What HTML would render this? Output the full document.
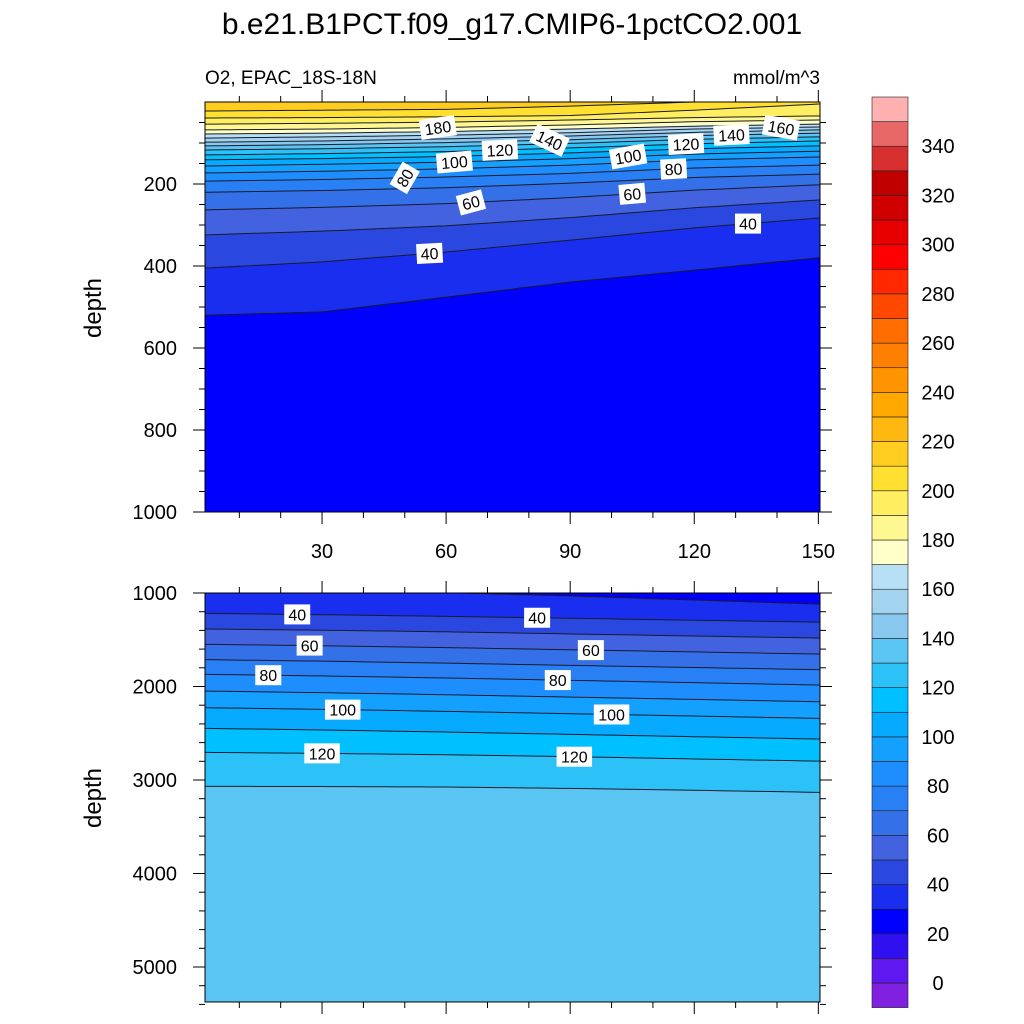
<!DOCTYPE html>
<html><head><meta charset="utf-8">
<style>
html,body{margin:0;padding:0;background:#fff;}
svg{display:block;font-family:"Liberation Sans",sans-serif;}
</style></head>
<body>
<svg id="chart" width="1024" height="1024" viewBox="0 0 1024 1024">
<defs>
<clipPath id="clipTop"><rect x="205" y="102" width="615" height="410"/></clipPath>
<clipPath id="clipBot"><rect x="205" y="593" width="615" height="409"/></clipPath>
</defs>
<text x="512" y="34" font-size="30" text-anchor="middle">b.e21.B1PCT.f09_g17.CMIP6-1pctCO2.001</text>
<text x="205" y="84" font-size="19">O2, EPAC_18S-18N</text>
<text x="820" y="84" font-size="19" text-anchor="end">mmol/m^3</text>
<text transform="translate(101,308) rotate(-90)" font-size="24" text-anchor="middle">depth</text>
<text transform="translate(101,798) rotate(-90)" font-size="24" text-anchor="middle">depth</text>
<g id="topPanel"></g>
<g id="botPanel"></g>
<g id="cbar"></g>
</svg>
<script>
// ---- data ----
const years = [2, 30, 60, 90, 120, 150];
const topLevels = [210,200,190,180,170,160,150,140,130,120,110,100,90,80,70,60,50,40,30];
const topDepths = [
 [22,20,18,10,0,0],
 [39,38,36,33,20,5],
 [54,52,49,44,38,34],
 [68,66,62,56,48,44],
 [78,76,72,66,59,54],
 [88,85,81,75,66,61],
 [98,95,90,83,74,68],
 [107,104,99,92,82,76],
 [117,114,109,101,91,85],
 [129,126,121,112,102,95],
 [141,138,133,124,114,107],
 [156,152,147,138,127,120],
 [173,169,163,154,141,134],
 [193,189,183,174,161,154],
 [220,216,209,198,184,176],
 [263,257,248,233,215,202],
 [324,315,302,282,258,239],
 [405,390,366,337,307,283],
 [520,512,476,439,410,380]
];
const botLevels = [30,40,50,60,70,80,90,100,110,120,130];
const botDepths = [
 [990,993,997,1030,1075,1118],
 [1218,1232,1250,1270,1292,1312],
 [1385,1398,1415,1438,1460,1482],
 [1549,1564,1584,1607,1630,1653],
 [1713,1729,1750,1774,1797,1820],
 [1870,1887,1909,1934,1959,1984],
 [2049,2066,2088,2113,2138,2163],
 [2227,2244,2266,2291,2316,2341],
 [2448,2465,2487,2512,2537,2562],
 [2705,2715,2730,2750,2775,2798],
 [3068,3070,3075,3090,3110,3132]
];
const topLabLevel = [180,120,140,100,100,120,140,160,80,80,60,60,40,40];
const topLabYear  = [58,73,85,62,104,118,129,141,50,115,66,105,56,133];
const topLabRot   = [-8,-3,25,-5,-10,-3,-3,10,-60,-3,-15,-5,-3,0];
const botLabLevel = [40,40,60,60,80,80,100,100,120,120];
const botLabYear  = [24,82,27,95,17,87,35,100,30,91];
const tickYears = [30,60,90,120,150];
const topDepthTicks = [200,400,600,800,1000];
const botDepthTicks = [1000,2000,3000,4000,5000];
const cbLabels = [0,20,40,60,80,100,120,140,160,180,200,220,240,260,280,300,320,340];
const colors = ["#8020e0","#6018f0","#3010f0","#0000ff","#1a2ef0","#2a48e0","#4262e0","#3470e8","#2880f4","#1e8eff","#14a0ff","#06aaff","#00c0ff","#2cc2f8","#5ac4f2","#88c8ee","#a2d4f0","#b8e0f4","#ffffc8","#fff890","#ffee60","#ffe030","#ffcc20","#ffb810","#ffa800","#ff9400","#ff8000","#ff6c00","#ff4800","#ff2800","#ff0000","#e80000","#d00000","#c00000","#d83030","#e86868","#ffb0b0"];
function bandColor(lo){ return colors[Math.round(lo/10)+1]; }

const NS="http://www.w3.org/2000/svg";
function mk(tag, attrs, parent){ const e=document.createElementNS(NS,tag); for(const k in attrs) e.setAttribute(k,attrs[k]); parent.appendChild(e); return e; }
const X0=205, X1=820, YR0=1.7, YR1=150.4;
function xs(yr){ return X0+(yr-YR0)/(YR1-YR0)*(X1-X0); }
function ysTop(d){ return 102+d*0.41; }
function ysBot(d){ return 593+(d-1000)*0.0935; }
function interp(arr, yr){
  if(yr<=years[0]) return arr[0];
  for(let i=1;i<years.length;i++){ if(yr<=years[i]){ const t=(yr-years[i-1])/(years[i]-years[i-1]); return arr[i-1]+t*(arr[i]-arr[i-1]); } }
  return arr[arr.length-1];
}
function contourPts(arr, ys){
  const pts=[]; for(let yr=0; yr<=152; yr+=2){ pts.push([xs(yr), ys(interp(arr,yr))]); } return pts;
}

function drawPanel(g, levels, depths, ys, clip, bgLo, bandOf, yTop, yBot, labLevel, labYear, labRot, name){
  const cg = mk('g',{'clip-path':'url(#'+clip+')'},g);
  const bg = mk('rect',{x:X0,y:yTop,width:X1-X0,height:yBot-yTop,fill:bandColor(bgLo)},cg);
  
  
  levels.forEach((L,i)=>{
    const pts=contourPts(depths[i], ys);
    const poly = pts.map(p=>p.join(',')).join(' ')+' '+(X1+5)+','+(yBot+5)+' '+(X0-5)+','+(yBot+5);
    const p = mk('polygon',{points:poly,fill:bandColor(bandOf(L))},cg);
    
    
  });
  levels.forEach((L,i)=>{
    const pts=contourPts(depths[i], ys);
    const l = mk('polyline',{points:pts.map(p=>p.join(',')).join(' '),fill:'none',stroke:'#1a1a2a','stroke-width':1},cg);
    
    
  });
  labLevel.forEach((L,i)=>{
    const idx=levels.indexOf(L); const yr=labYear[i];
    const x=xs(yr), y=ys(interp(depths[idx],yr));
    const lg = mk('g',{transform:'translate('+x+','+y+') rotate('+(labRot?labRot[i]:0)+')'},cg);
    
    
    const w = String(L).length*9.5+7;
    mk('rect',{x:-w/2,y:-10,width:w,height:20,fill:'#fff'},lg);
    const t = mk('text',{x:0,y:6,'font-size':16,'text-anchor':'middle'},lg); t.textContent=L;
  });
  const fr = mk('rect',{x:X0,y:yTop,width:X1-X0,height:yBot-yTop,fill:'none',stroke:'#000','stroke-width':1},g);
  
  
}

const topG=document.getElementById('topPanel');
drawPanel(topG, topLevels, topDepths, ysTop, 'clipTop', 210, L=>L-10, 102, 512, topLabLevel, topLabYear, topLabRot, 'upper');
const botG=document.getElementById('botPanel');
drawPanel(botG, botLevels, botDepths, ysBot, 'clipBot', 20, L=>L, 593, 1002, botLabLevel, botLabYear, null, 'lower');

function tickLine(g,x1,y1,x2,y2){ mk('line',{x1:x1,y1:y1,x2:x2,y2:y2,stroke:'#000','stroke-width':1},g); }
function xTicks(g, yTop, yBot, labels){
  for(let yr=10; yr<=150; yr+=10){
    const x=xs(yr), major=yr%30===0, len=major?12:6;
    tickLine(g,x,yTop,x,yTop-len); tickLine(g,x,yBot,x,yBot+len);
  }
  if(labels){ tickYears.forEach(v=>{ const t=mk('text',{x:xs(v),y:yBot+46,'font-size':20,'text-anchor':'middle'},g); t.textContent=v;
      }); }
}
xTicks(topG,102,512,true);
xTicks(botG,593,1002,false);
for(let d=50; d<=1000; d+=50){ const y=ysTop(d), len=d%200===0?12:6; tickLine(topG,X0,y,X0-len,y); tickLine(topG,X1,y,X1+len,y); }
topDepthTicks.forEach(d=>{ const t=mk('text',{x:177,y:ysTop(d)+7,'font-size':20,'text-anchor':'end'},topG); t.textContent=d;
    });
for(let d=1000; d<=5400; d+=200){ const y=ysBot(d), len=d%1000===0?12:6; tickLine(botG,X0,y,X0-len,y); tickLine(botG,X1,y,X1+len,y); }
botDepthTicks.forEach(d=>{ const t=mk('text',{x:177,y:ysBot(d)+7,'font-size':20,'text-anchor':'end'},botG); t.textContent=d;
    });

const cb=document.getElementById('cbar');
const CBX=872, CBW=36, CBT=97, CBB=1007.6, n=colors.length, bh=(CBB-CBT)/n;
colors.forEach((c,i)=>{
  const y=CBB-(i+1)*bh;
  const r=mk('rect',{x:CBX,y:y,width:CBW,height:bh,fill:c,stroke:'#222','stroke-width':0.6},cb);
  
  
});
cbLabels.forEach(v=>{
  const y=CBB-(v/10+1)*bh;
  const t=mk('text',{x:938,y:y+7,'font-size':20,'text-anchor':'middle'},cb); t.textContent=v;
  
  
});
</script>
</body></html>
